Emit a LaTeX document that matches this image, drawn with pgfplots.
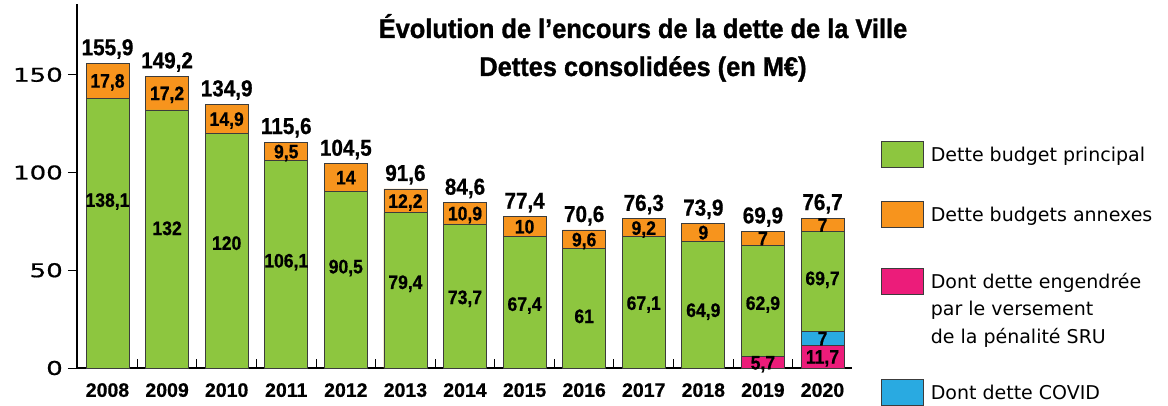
\documentclass[border=0pt]{standalone}
\usepackage{fontspec}
\setmainfont{DejaVu Sans}
\newfontfamily\labfont{Liberation Sans Bold}[FakeBold=0.7, FakeStretch=0.9]
\newfontfamily\yearfont{Liberation Sans Bold}[FakeBold=0.6]
\newfontfamily\titlefont{Liberation Sans Bold}[FakeBold=1.2, FakeStretch=0.94]
\newfontfamily\tickfont{DejaVu Sans}[FakeStretch=1.37, FakeBold=0.8]
\usepackage{pgfplots}
\usepackage{pgfplotstable}
\pgfplotsset{compat=1.18}
\definecolor{cgreen}{HTML}{8DC63F}
\definecolor{corange}{HTML}{F7941D}
\definecolor{cpink}{HTML}{EC1C7A}
\definecolor{cblue}{HTML}{29AAE1}
\definecolor{cedge}{HTML}{3C3C3C}

\pgfplotstableread{
x g o t gy
0 138.1 17.8 155.9 86
1 132 17.2 149.2 71.6
2 120 14.9 134.9 64
3 106.1 9.5 115.6 55
4 90.5 14 104.5 52
5 79.4 12.2 91.6 44
6 73.7 10.9 84.6 36.3
7 67.4 10 77.4 32.8
8 61 9.6 70.6 26.6
9 67.1 9.2 76.3 33.3
10 64.9 9 73.9 29.7
11 62.9 7 69.9 33.3
12 69.7 7 76.7 46
}\debt
\pgfplotstableread{
x p
11 5.7
12 11.7
}\sru
\pgfplotstableread{
x base b
12 11.7 7
}\covid

\pgfplotsset{
  barst/.style={forget plot, ybar, bar width=43pt, bar shift=0pt, draw=cedge, line width=0.8pt},
  vlab/.style={forget plot, draw=none, mark=none, point meta=explicit,
    nodes near coords={\pgfmathprintnumber[use comma,fixed,precision=1,assume math mode=true]{\pgfplotspointmeta}},
    every node near coord/.append style={anchor=base, inner sep=0pt, yshift=-7pt,
      font=\labfont\fontsize{19.5}{19.5}\selectfont}},
}

\begin{document}
\begin{tikzpicture}
\useasboundingbox (-77pt,-37pt) rectangle (1091pt,368pt);
\begin{axis}[
  at={(0,0)}, anchor=south west,
  scale only axis, width=775pt, height=364pt,
  xmin=-0.512, xmax=12.495, ymin=0, ymax=186.2,
  clip=false,
  axis lines=left,
  axis line style={-, line width=1.2pt, black},
  ytick={0,50,100,150}, yticklabels={0,50,100,150},
  ytick align=outside, xtick align=inside,
  major tick length=9pt,
  tick style={black, line width=1pt},
  xtick={-0.5,0.5,...,12.5}, xticklabels={},
  extra x ticks={0,1,2,3,4,5,6,7,8,9,10,11,12},
  extra x tick labels={2008,2009,2010,2011,2012,2013,2014,2015,2016,2017,2018,2019,2020},
  extra x tick style={major tick length=0pt},
  xticklabel style={font=\yearfont\fontsize{19.5}{19.5}\selectfont, inner sep=0pt, anchor=north, yshift=-15pt},
  yticklabel style={font=\tickfont\fontsize{19}{19}\selectfont, inner sep=0pt, anchor=east, xshift=-5pt},
  legend style={at={(axis description cs:1.0374,0.6236)}, anchor=north west,
    draw=none, fill=none, inner sep=0pt, outer sep=0pt,
    row sep=33.5pt, column sep=7pt,
    font=\fontsize{19}{27.5}\selectfont,
    cells={anchor=base west}, nodes={inner sep=0pt}},
]
\addplot[barst, fill=corange] table[x=x,y=t]{\debt};
\addplot[barst, fill=cgreen] table[x=x,y=g]{\debt};
\addplot[barst, fill=cblue] table[x=x,y expr=\thisrow{base}+\thisrow{b}]{\covid};
\addplot[barst, fill=cpink] table[x=x,y=p]{\sru};

% totals
\addplot[vlab, every node near coord/.append style={yshift=15pt, font=\labfont\fontsize{23}{23}\selectfont}]
  table[x=x,y=t,meta=t]{\debt};
% orange
\addplot[vlab] table[x=x,y expr=\thisrow{g}+0.5*\thisrow{o},meta=o]{\debt};
% green
\addplot[vlab] table[x=x,y=gy,meta=g]{\debt};
% pink
\addplot[vlab] table[x=x,y expr=0.5*\thisrow{p},meta=p]{\sru};
% blue
\addplot[vlab] table[x=x,y expr=\thisrow{base}+0.5*\thisrow{b},meta=b]{\covid};

\node[anchor=base, font=\titlefont\fontsize{27}{27}\selectfont] at (axis description cs:0.7303,0.9066) {Évolution de l’encours de la dette de la Ville};
\node[anchor=base, font=\titlefont\fontsize{27}{27}\selectfont] at (axis description cs:0.7303,0.8022) {Dettes consolidées (en M€)};

\addlegendimage{legend image code/.code={\draw[fill=cgreen, draw=cedge, line width=0.8pt] (0pt,-6pt) rectangle (42pt,20pt);}}
\addlegendentry{Dette budget principal}
\addlegendimage{legend image code/.code={\draw[fill=corange, draw=cedge, line width=0.8pt] (0pt,-6pt) rectangle (42pt,20pt);}}
\addlegendentry{Dette budgets annexes}
\addlegendimage{legend image code/.code={\draw[fill=cpink, draw=cedge, line width=0.8pt] (0pt,-6pt) rectangle (42pt,20pt);}}
\addlegendentry[text height=26.5pt, text depth=57.5pt]{\parbox[t]{260pt}{Dont dette engendrée\\par le versement\\de la pénalité SRU}}
\addlegendimage{legend image code/.code={\draw[fill=cblue, draw=cedge, line width=0.8pt] (0pt,-6pt) rectangle (42pt,20pt);}}
\addlegendentry{Dont dette COVID}
\end{axis}
\end{tikzpicture}
\end{document}
